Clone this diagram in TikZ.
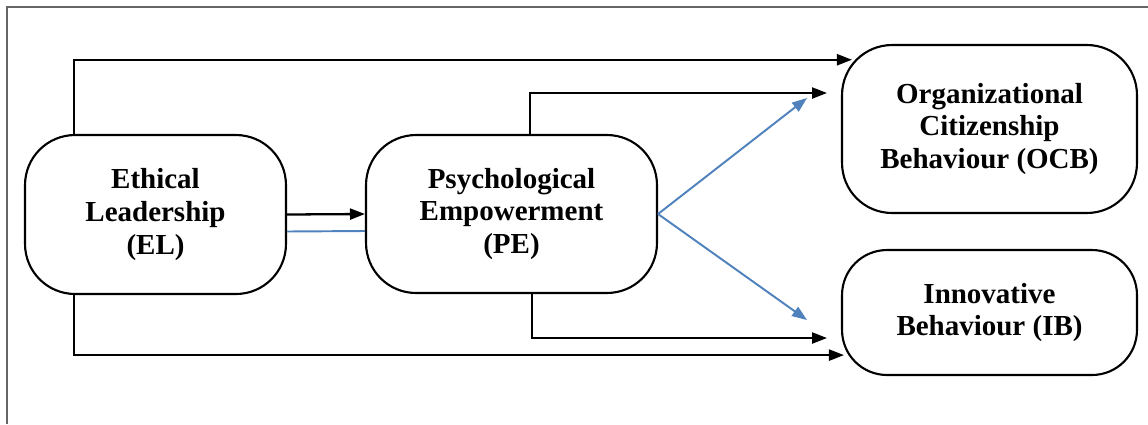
\documentclass[tikz,border=0pt]{standalone}
\usepackage{fontspec}
\setmainfont{Liberation Serif}
\usetikzlibrary{arrows.meta}
\definecolor{pathblue}{RGB}{79,129,189}
\begin{document}
\begin{tikzpicture}[x=0.02cm, y=-0.02cm,
    construct/.style={draw, line width=1.2pt, rounded corners=1cm, align=center,
        font=\fontsize{16.5}{18.6}\selectfont\bfseries, inner sep=0pt},
    link/.style={line width=1.3pt, -{Triangle[length=0.3cm, width=0.22cm]}},
    medlink/.style={line width=1.1pt, pathblue, -{Triangle[length=0.3cm, width=0.22cm]}}]
        \useasboundingbox (0,0) rectangle (1148,424);
        \draw[gray!80!black, line width=0.7pt] (7,424) -- (7,7) -- (1148,7);

        \node[construct, minimum width=5.22cm, minimum height=3.18cm] (EL) at (155.5,214.5) {Ethical\\Leadership\\(EL)};
        \node[construct, minimum width=5.82cm, minimum height=3.16cm] (PE) at (511.5,214) {Psychological\\Empowerment\\(PE)};
        \node[construct, minimum width=5.9cm, minimum height=3.36cm] (OCB) at (989.5,129) {Organizational\\Citizenship\\Behaviour (OCB)};
        \node[construct, minimum width=5.9cm, minimum height=2.5cm, rounded corners=0.9cm] (IB) at (989.5,312.5) {Innovative\\Behaviour (IB)};

        \coordinate (ocbtop) at (827,93);
        \coordinate (ibbot) at (827,338);
        \coordinate (ocbtip) at (807,98);
        \coordinate (ibtip) at (807,320);

        \draw[link] ([xshift=1cm]EL.north west) |- ([xshift=0.22cm]OCB.155);
        \draw[link] ([xshift=1cm]EL.south west) |- ([xshift=0.06cm]IB.196);
        \draw[link] (EL.east) -- (PE.west);
        \draw[line width=1.1pt, pathblue] ([yshift=-0.34cm]EL.east) -- ([yshift=-0.34cm]PE.west);

        \draw[link] ([xshift=0.37cm]PE.north) |- (ocbtop);
        \draw[link] ([xshift=0.41cm]PE.south) |- (ibbot);
        \draw[medlink] (PE.east) -- (ocbtip);
        \draw[medlink] (PE.east) -- (ibtip);
    \end{tikzpicture}
\end{document}
